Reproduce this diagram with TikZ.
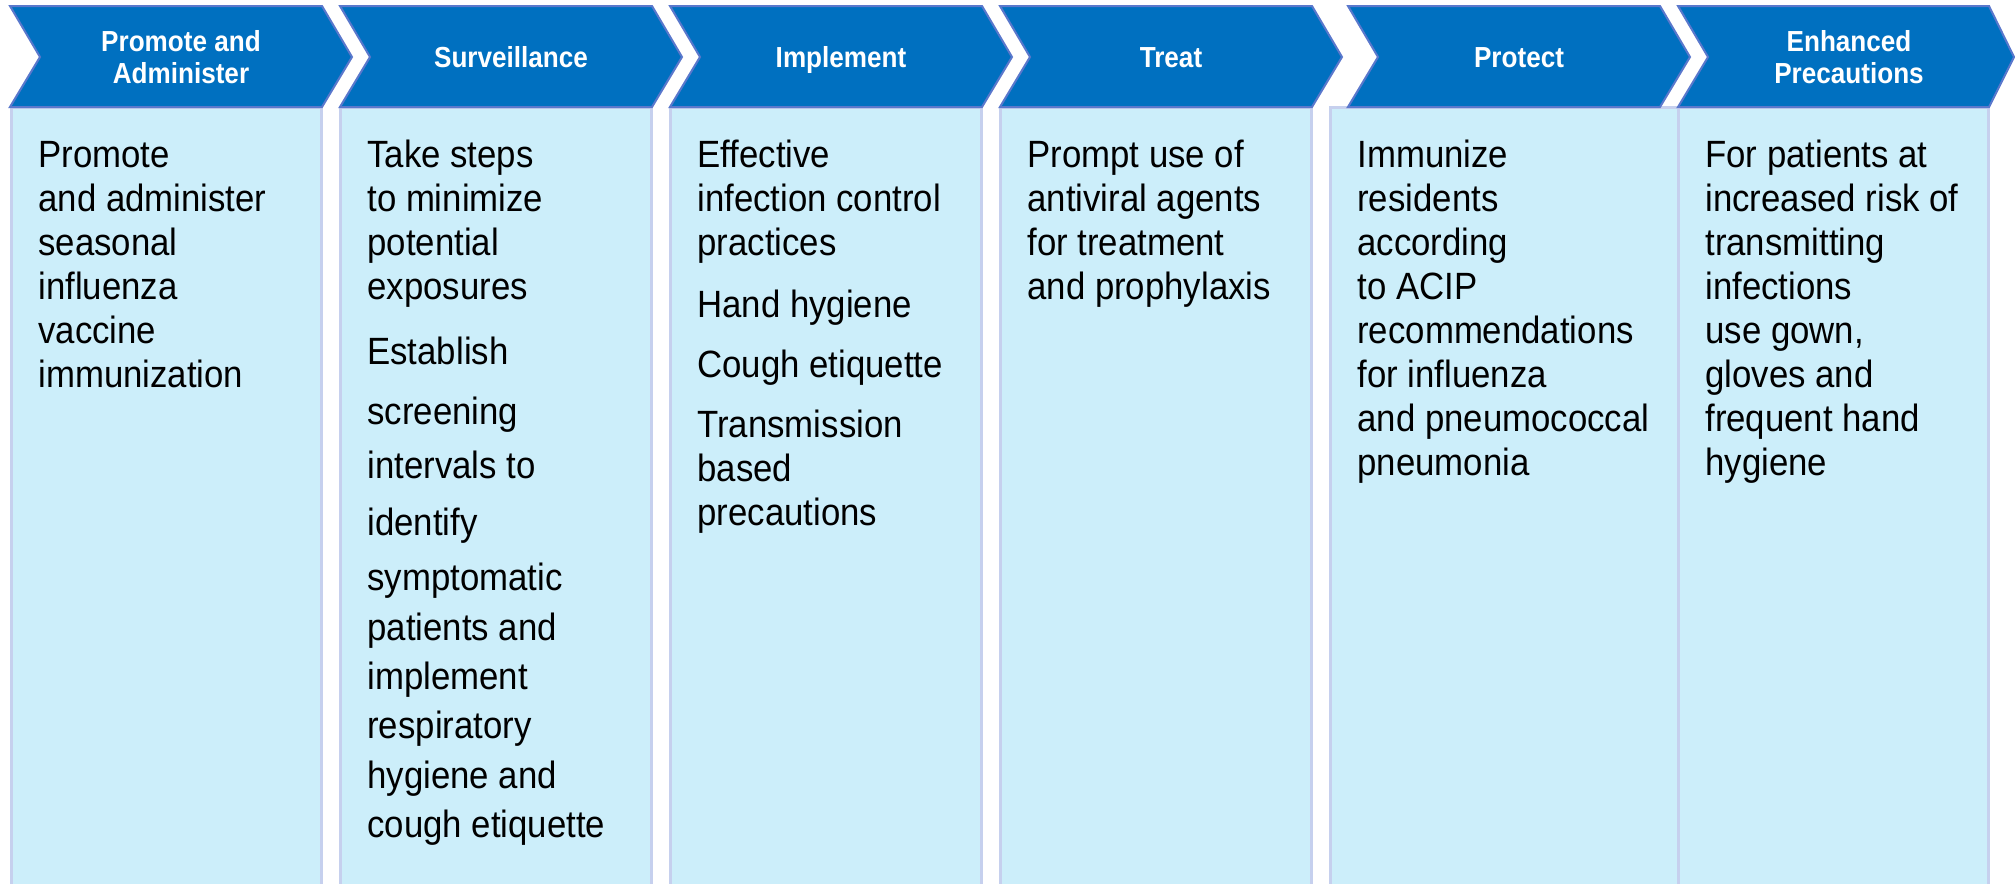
\documentclass[tikz,border=0pt]{standalone}
\usepackage{fontspec}
\newfontfamily\stepfont{Liberation Sans}[FakeStretch=0.915]
\newfontfamily\headfont{Liberation Sans}[FakeStretch=0.9]
\definecolor{headblue}{HTML}{0070C0}
\definecolor{headline}{HTML}{5A78CC}
\definecolor{paneblue}{HTML}{CCEEFA}
\definecolor{paneline}{HTML}{C6D0EE}
\newcommand{\firstline}{\rule{0pt}{14pt}}
\begin{document}
\begin{tikzpicture}[x=0.5pt, y=-0.5pt,
                   head/.style={fill=headblue, draw=headline, line width=1pt},
                   pane/.style={fill=paneblue, draw=paneline, line width=1.5pt},
                   title/.style={text=white, align=center, font=\headfont\bfseries\fontsize{14.5}{16}\selectfont},
                   body/.style={anchor=north west, inner sep=0pt, align=left, font=\stepfont\fontsize{19}{22}\selectfont}]
\clip (0,0) rectangle (2015,884);

% panes below the arrows
\draw[pane] (11,107) rectangle (321,900);
\draw[pane] (340,107) rectangle (651,900);
\draw[pane] (670,107) rectangle (981,900);
\draw[pane] (1000,107) rectangle (1311,900);
\draw[pane] (1330,107) rectangle (1678,900);
\draw[pane] (1678,107) rectangle (1988,900);

% chevrons
\draw[head] (10,6) -- (322,6) -- (352,57) -- (322,107) -- (10,107) -- (40,57) -- cycle;
\draw[head] (340,6) -- (652,6) -- (682,57) -- (652,107) -- (340,107) -- (370,57) -- cycle;
\draw[head] (670,6) -- (982,6) -- (1012,57) -- (982,107) -- (670,107) -- (700,57) -- cycle;
\draw[head] (1000,6) -- (1312,6) -- (1342,57) -- (1312,107) -- (1000,107) -- (1030,57) -- cycle;
\draw[head] (1348,6) -- (1660,6) -- (1690,57) -- (1660,107) -- (1348,107) -- (1378,57) -- cycle;
\draw[head] (1678,6) -- (1989,6) -- (2014,57) -- (1989,107) -- (1678,107) -- (1708,57) -- cycle;

\node[title] (H1) at (181,57) {Promote and\\Administer};
\node[title, anchor=base] (H2) at (511,67) {Surveillance};
\node[title, anchor=base] (H3) at (841,67) {Implement};
\node[title, anchor=base] (H4) at (1171,67) {Treat};
\node[title, anchor=base] (H5) at (1519,67) {Protect};
\node[title] (H6) at (1849,57) {Enhanced\\Precautions};

% texts, top of first line 28px above its baseline (167)
\node[body] (T1) at (38,139) {\firstline Promote\\and administer\\seasonal\\influenza\\vaccine\\immunization};
\node[body] (T2) at (367,139) {\firstline Take steps\\to minimize\\potential\\exposures\\[10.5pt]Establish\\[8pt]screening\\[5pt]intervals to\\[6.5pt]identify\\[5.5pt]symptomatic\\[3pt]patients and\\[2.5pt]implement\\[2.5pt]respiratory\\[3pt]hygiene and\\[2.5pt]cough etiquette};
\node[body] (T3) at (697,139) {\firstline Effective\\infection control\\practices\\[9pt]Hand hygiene\\[8pt]Cough etiquette\\[8pt]Transmission\\based\\precautions};
\node[body] (T4) at (1027,139) {\firstline Prompt use of\\antiviral agents\\for treatment\\and prophylaxis};
\node[body] (T5) at (1357,139) {\firstline Immunize\\residents\\according\\to ACIP\\recommendations\\for influenza\\and pneumococcal\\pneumonia};
\node[body] (T6) at (1705,139) {\firstline For patients at\\increased risk of\\transmitting\\infections\\use gown,\\gloves and\\frequent hand\\hygiene};
\end{tikzpicture}
\end{document}
